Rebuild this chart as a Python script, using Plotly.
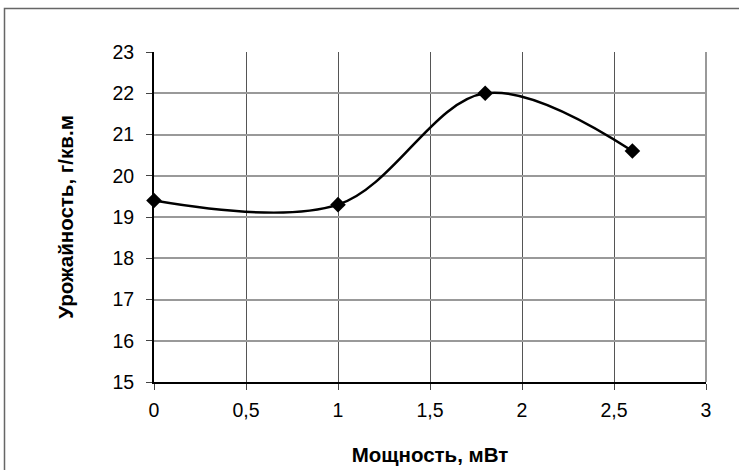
import plotly.graph_objects as go

power = [0, 1, 1.8, 2.6]
yield_vals = [19.4, 19.3, 22.0, 20.6]
x_ticks = [0, 0.5, 1, 1.5, 2, 2.5, 3]
x_tick_labels = ["0", "0,5", "1", "1,5", "2", "2,5", "3"]
y_ticks = [15, 16, 17, 18, 19, 20, 21, 22, 23]

fig = go.Figure()
fig.add_trace(go.Scatter(
    x=power, y=yield_vals, mode="lines+markers",
    line=dict(color="black", width=2.5, shape="spline", smoothing=1),
    marker=dict(symbol="diamond", size=12, color="black"),
    showlegend=False, cliponaxis=False,
))

font = dict(family="Liberation Sans, Arial, sans-serif", size=19.5, color="black")
title_font = dict(family="Liberation Sans, Arial, sans-serif", size=20.5, color="black")

fig.update_layout(
    width=739, height=470,
    margin=dict(l=154, r=33, t=52, b=88),
    paper_bgcolor="white", plot_bgcolor="white",
    font=font,
    xaxis=dict(
        range=[0, 3], tickvals=x_ticks, ticktext=x_tick_labels,
        showgrid=True, gridcolor="#555555", gridwidth=1,
        showline=True, linecolor="black", linewidth=2,
        ticks="outside", ticklen=6, tickcolor="#444444",
        ticklabelstandoff=4, automargin=False,
        zeroline=False,
        title=dict(text="<b>Мощность, мВт</b>", standoff=27, font=title_font),
    ),
    yaxis=dict(
        range=[15, 23], tickvals=y_ticks,
        showgrid=True, gridcolor="#999999", gridwidth=1.5,
        showline=True, linecolor="black", linewidth=2,
        ticks="outside", ticklen=6, tickcolor="#444444",
        ticklabelstandoff=8, automargin=False,
        zeroline=False,
        title=dict(text="<b>Урожайность, г/кв.м</b>", standoff=33, font=title_font),
    ),
    shapes=[
        dict(type="rect", xref="paper", yref="paper",
             x0=(4.5 - 154) / 552, x1=2, y0=-1, y1=(382 - 8.5) / 330,
             line=dict(color="#666666", width=1.5), layer="below"),
        dict(type="line", xref="paper", yref="paper", x0=1, x1=1, y0=0, y1=1,
             line=dict(color="#999999", width=2)),
    ],
)

fig.write_html("out.html")
